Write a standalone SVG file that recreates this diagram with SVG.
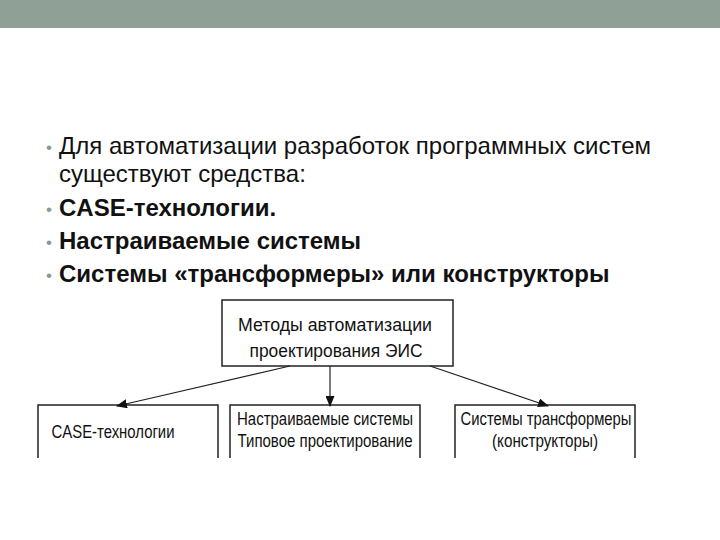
<svg xmlns="http://www.w3.org/2000/svg" width="720" height="540" viewBox="0 0 720 540">
<defs><marker id="a" markerWidth="11" markerHeight="9" refX="10" refY="4.5" orient="auto" markerUnits="userSpaceOnUse"><path d="M0,0L11,4.5L0,9z" fill="#111"/></marker>
<style>.t{font-family:"Liberation Sans",Arial,sans-serif;font-size:24px;fill:#111}.b{font-weight:bold}.bu{fill:#8a9a92;font-size:17px}.n{font-family:"Liberation Sans",Arial,sans-serif;font-size:17.5px;fill:#111;text-anchor:middle}.bx{fill:#fff;stroke:#222;stroke-width:1.5}</style></defs>
<rect width="720" height="540" fill="#fff"/>
<rect width="720" height="28" fill="#8fa096"/>
<g id="text">
<text class="t bu" x="46" y="153">•</text><text class="t" x="59" y="154">Для автоматизации разработок программных систем</text>
<text class="t" x="59" y="182">существуют средства:</text>
<text class="t bu" x="46" y="215">•</text><text class="t b" x="59" y="216">CASE-технологии.</text>
<text class="t bu" x="46" y="248">•</text><text class="t b" x="59" y="249">Настраиваемые системы</text>
<text class="t bu" x="46" y="281">•</text><text class="t b" x="59" y="282">Системы «трансформеры» или конструкторы</text>
</g>
<g id="top"><rect class="bx" x="222" y="300" width="231" height="66"/><text class="n" x="335" y="331" textLength="194" lengthAdjust="spacingAndGlyphs">Методы автоматизации</text><text class="n" x="336" y="357" textLength="173" lengthAdjust="spacingAndGlyphs">проектирования ЭИС</text></g>
<g id="case"><path class="bx" d="M38,458V405H218V458"/><text class="n" x="113" y="438" textLength="123" lengthAdjust="spacingAndGlyphs">CASE-технологии</text></g>
<g id="nastr"><path class="bx" d="M230,458V405H420V458"/><text class="n" x="325" y="425" textLength="176" lengthAdjust="spacingAndGlyphs">Настраиваемые системы</text><text class="n" x="325" y="447" textLength="175" lengthAdjust="spacingAndGlyphs">Типовое проектирование</text></g>
<g id="trans"><path class="bx" d="M455,458V405H635V458"/><text class="n" x="546" y="425" textLength="171" lengthAdjust="spacingAndGlyphs">Системы трансформеры</text><text class="n" x="545" y="447" textLength="106" lengthAdjust="spacingAndGlyphs">(конструкторы)</text></g>
<g id="connectors" stroke="#222" stroke-width="1.2" fill="none">
<line x1="290" y1="366" x2="117" y2="406" marker-end="url(#a)"/>
<line x1="330" y1="366" x2="330" y2="406" marker-end="url(#a)"/>
<line x1="430" y1="366" x2="548" y2="406" marker-end="url(#a)"/>
</g>
</svg>
